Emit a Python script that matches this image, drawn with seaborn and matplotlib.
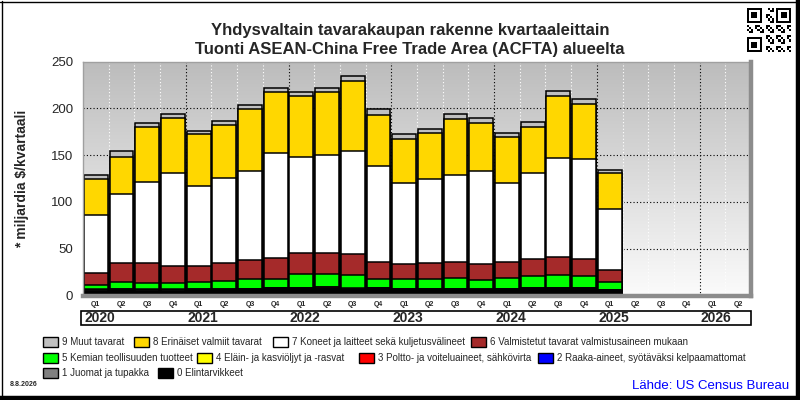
"""
Yhdysvaltain tuonti ASEAN-China (ACFTA) alueelta, tavararyhmittäin kvartaaleittain.
"""

import numpy as np
import pandas as pd
import matplotlib.pyplot as plt
import seaborn as sns
from matplotlib.patches import Rectangle
from matplotlib.lines import Line2D
from matplotlib.colors import LinearSegmentedColormap
from matplotlib.transforms import blended_transform_factory

sns.set_style("white")
plt.rcParams['font.family'] = ['Liberation Sans', 'DejaVu Sans']

# quarters on the axis (2020 Q1 .. 2026 Q2), data runs to 2025 Q1
quarter_labels = ['Q1', 'Q2', 'Q3', 'Q4'] * 6 + ['Q1', 'Q2']
years = ['2020', '2021', '2022', '2023', '2024', '2025', '2026']
periods = [f"{y}{q}" for y in years for q in ['Q1', 'Q2', 'Q3', 'Q4']][:26]
n_data = 21

# mrd $ per quarter, bottom of the stack first
elintarvikkeet = [5.1, 5.4, 5.1, 5.1, 5.4, 5.4, 5.8, 6.9, 6.9, 7.0, 5.5,
                  6.9, 5.8, 5.8, 5.8, 5.4, 5.8, 6.9, 6.9, 6.9, 4.7]
juomat = [0.3] * 21
raaka_aineet = [0.4, 0.4, 0.4, 0.4, 0.4, 0.4, 0.4, 0.4, 0.4, 1.0, 1.0,
                0.4, 0.4, 0.4, 0.4, 0.4, 0.4, 0.4, 0.4, 0.4, 0.4]
poltto = [0.5] * 21
oljyt = [0.3] * 21
kemian = [4.4, 7.1, 6.4, 6.4, 7.1, 8.2, 9.9, 9.6, 14.2, 13.5, 13.9,
          9.6, 10.7, 9.9, 11.0, 9.3, 11.0, 12.0, 13.1, 12.0, 7.8]
valmistetut = [12.6, 20.6, 21.6, 18.1, 17.1, 19.5, 20.3, 21.6, 22.7, 22.7, 22.4,
               17.4, 15.2, 17.4, 17.4, 17.0, 17.4, 18.2, 19.2, 18.2, 12.8]
koneet = [61.9, 74.3, 87.1, 100.2, 86.3, 91.4, 95.9, 113.0, 103.1, 105.2, 110.9,
          103.4, 87.4, 90.3, 93.5, 100.2, 84.9, 92.7, 106.6, 107.6, 66.1]
erinaiset = [39.4, 39.5, 58.6, 58.6, 55.5, 56.5, 65.8, 65.1, 65.0, 67.2, 74.6,
             54.3, 46.9, 49.0, 59.7, 51.2, 49.1, 49.0, 66.1, 58.7, 38.4]
muut = [4.3, 6.4, 4.3, 4.3, 3.2, 4.2, 4.6, 4.2, 4.3, 4.2, 4.6,
        5.7, 5.4, 4.3, 5.3, 5.3, 4.2, 5.3, 5.4, 5.3, 3.2]

series = [elintarvikkeet, juomat, raaka_aineet, poltto, oljyt,
          kemian, valmistetut, koneet, erinaiset, muut]
series_labels = ['0 Elintarvikkeet', '1 Juomat ja tupakka',
                 '2 Raaka-aineet, syötäväksi kelpaamattomat',
                 '3 Poltto- ja voiteluaineet, sähkövirta',
                 '4 Eläin- ja kasviöljyt ja -rasvat',
                 '5 Kemian teollisuuden tuotteet',
                 '6 Valmistetut tavarat valmistusaineen mukaan',
                 '7 Koneet ja laitteet sekä kuljetusvälineet',
                 '8 Erinäiset valmiit tavarat', '9 Muut tavarat']
series_colors = ['#000000', '#808080', '#0000ff', '#ff0000', '#ffff00',
                 '#00ff00', '#a52a2a', '#ffffff', '#ffd700', '#c0c0c0']

df = pd.DataFrame({'period': periods[:n_data]})
cum = np.cumsum(np.array(series), axis=0)

fig = plt.figure(figsize=(8, 4), dpi=100)
ax = fig.add_axes([83 / 800, 1 - 295.5 / 400, 668 / 800, 234 / 400])

# grey gradient wall behind the bars
grad = np.linspace(0, 1, 256).reshape(-1, 1)
cmap = LinearSegmentedColormap.from_list('wall', ['#fbfbfb', '#bcbcbc'])
ax.imshow(grad, extent=(-0.5, 25.5, 250, 0), aspect='auto', cmap=cmap, zorder=0)

# stacked bars: draw cumulative totals from the top group down
for k in reversed(range(len(series))):
    df['value'] = cum[k]
    sns.barplot(data=df, x='period', y='value', order=periods, color=series_colors[k],
                saturation=1, width=0.93, edgecolor='black', linewidth=1.1,
                errorbar=None, ax=ax, zorder=2)

ax.set_xlim(-0.5, 25.5)
ax.set_ylim(0, 250)
ax.set_xlabel('')
ax.set_ylabel('')

# grid: dotted black for values and year boundaries, white dotted for quarters
for yv in [50, 100, 150, 200]:
    ax.axhline(yv, color='black', linestyle=(0, (1, 2)), linewidth=0.8, zorder=1)
for b in np.arange(0.5, 25.5, 1):
    if (b + 0.5) % 4 == 0:
        ax.axvline(b, color='black', linestyle=(0, (1, 2)), linewidth=0.8, zorder=1)
    else:
        ax.axvline(b, color='white', linestyle=(0, (1, 2)), linewidth=0.8, zorder=1)

ax.set_yticks([0, 50, 100, 150, 200, 250])
ax.tick_params(axis='y', length=0, pad=7, labelsize=9.5)
ax.set_xticks(range(26))
ax.set_xticklabels(quarter_labels, fontsize=5, fontweight='bold')
ax.set_xticks(np.arange(-0.5, 25.6, 1), minor=True)
ax.tick_params(axis='x', which='major', length=0, pad=4)
ax.tick_params(axis='x', which='minor', length=4, width=0.8, color='black', direction='out')

for side in ['left', 'top']:
    ax.spines[side].set_color('#a0a0a0')
    ax.spines[side].set_linewidth(1)
for side in ['right', 'bottom']:
    ax.spines[side].set_color('#8c8c8c')
    ax.spines[side].set_linewidth(3.2)
    ax.spines[side].set_zorder(3)

# year row
fig.add_artist(Rectangle((81 / 800, 1 - 325 / 400), 670 / 800, 14 / 400,
                         transform=fig.transFigure, fill=False, edgecolor='black', linewidth=1.2))
trans = blended_transform_factory(ax.transData, fig.transFigure)
for i, y in enumerate(years):
    fig.text(i * 4 - 0.45, 1 - 318 / 400, y, transform=trans, fontsize=10,
             fontweight='bold', ha='left', va='center')

# titles and labels
fig.text(410 / 800, 1 - 31 / 400, 'Yhdysvaltain tavarakaupan rakenne kvartaaleittain',
         fontsize=12, fontweight='bold', ha='center', va='center')
fig.text(410 / 800, 1 - 49.5 / 400, 'Tuonti ASEAN-China Free Trade Area (ACFTA) alueelta',
         fontsize=12, fontweight='bold', ha='center', va='center')
fig.text(22 / 800, 1 - 179 / 400, '* miljardia $/kvartaali', rotation=90,
         fontsize=10, fontweight='bold', ha='center', va='center')

# legend, laid out as in the original
legend_rows = [[(9, 43), (8, 134), (7, 273), (6, 471)],
               [(5, 43), (4, 197), (3, 359), (2, 538)],
               [(1, 43), (0, 158)]]
row_y = [342, 358, 373]
for row, yy in zip(legend_rows, row_y):
    for k, xx in row:
        fig.add_artist(Rectangle((xx / 800, 1 - (yy + 5) / 400), 15 / 800, 10 / 400,
                                 transform=fig.transFigure, facecolor=series_colors[k],
                                 edgecolor='black', linewidth=1))
        fig.text((xx + 19) / 800, 1 - yy / 400, series_labels[k], fontsize=7,
                 ha='left', va='center')

fig.text(10 / 800, 1 - 384 / 400, '8.8.2026', fontsize=5, fontweight='bold',
         ha='left', va='center')
fig.text(789 / 800, 1 - 386 / 400, 'Lähde: US Census Bureau', fontsize=9.5,
         color='#0000ff', ha='right', va='center')

# QR-style mark in the corner
qr = np.zeros((21, 21))
for r0, c0 in [(0, 0), (0, 14), (14, 0)]:
    qr[r0:r0 + 7, c0:c0 + 7] = 1
    qr[r0 + 1:r0 + 6, c0 + 1:c0 + 6] = 0
    qr[r0 + 2:r0 + 5, c0 + 2:c0 + 5] = 1
for r in range(21):
    for c in range(21):
        if (r < 8 and c < 8) or (r < 8 and c > 12) or (r > 12 and c < 8):
            continue
        qr[r, c] = 1 if (r * 7 + c * 3 + r * c) % 5 < 2 else 0
qax = fig.add_axes([747 / 800, 1 - 52 / 400, 44 / 800, 44 / 400])
qax.imshow(qr, cmap='gray_r', interpolation='nearest')
qax.axis('off')

# outer frame: thin top/left, heavy right/bottom
fig.add_artist(Line2D([1.5 / 800, 1.5 / 800], [0, 1 - 1 / 400], color='black', linewidth=1,
                      transform=fig.transFigure))
fig.add_artist(Line2D([0, 1], [1 - 1.5 / 400, 1 - 1.5 / 400], color='black', linewidth=1,
                      transform=fig.transFigure))
fig.add_artist(Line2D([797.5 / 800, 797.5 / 800], [0, 1], color='black', linewidth=3.2,
                      transform=fig.transFigure))
fig.add_artist(Line2D([0, 1], [2 / 400, 2 / 400], color='black', linewidth=3.2,
                      transform=fig.transFigure))

fig.savefig('out.png', dpi=100)
plt.close(fig)
